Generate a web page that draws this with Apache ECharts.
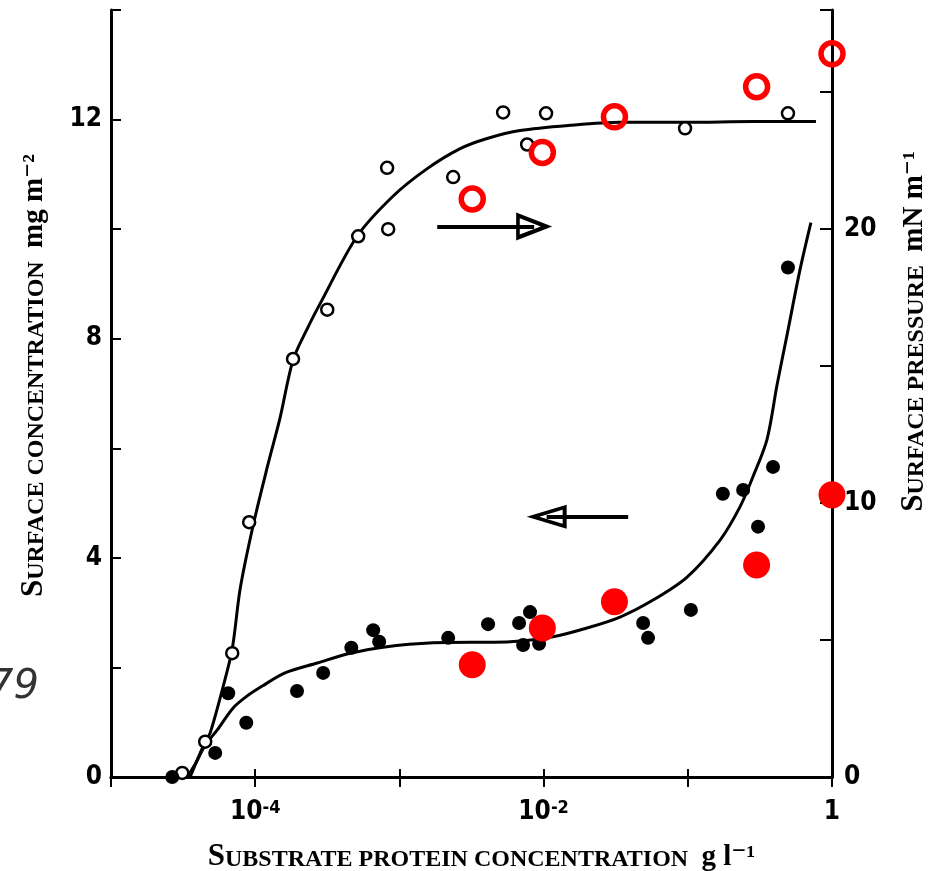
<!DOCTYPE html>
<html>
<head>
<meta charset="utf-8">
<script src="https://cdn.jsdelivr.net/npm/echarts@6/dist/echarts.min.js"></script>
<style>
html,body{margin:0;padding:0;background:#fff;}
#chart{width:929px;height:871px;}
</style>
</head>
<body>
<div id="chart"></div>
<script>
// ---- Data (substrate protein concentration in g/l) ----
// Surface pressure (mN/m, right axis): open black circles
const pressureX = [3.12e-5, 4.50e-5, 6.93e-5, 9.08e-5, 1.83e-4, 3.16e-4, 5.18e-4, 8.36e-4, 8.22e-4, 2.36e-3, 5.24e-3, 7.69e-3, 1.04e-2, 0.0957, 0.495];
const pressureY = [0.15, 1.29, 4.52, 9.30, 15.26, 17.06, 19.74, 20.0, 22.24, 21.9, 24.26, 23.09, 24.23, 23.68, 24.23];

// Surface concentration (mg/m2, left axis): filled black circles
const concX = [2.66e-5, 5.28e-5, 6.50e-5, 8.67e-5, 1.95e-4, 2.96e-4, 4.64e-4, 6.58e-4, 7.24e-4, 2.18e-3, 4.12e-3, 6.76e-3, 8.05e-3, 7.21e-3, 9.31e-3, 0.0490, 0.0530, 0.105, 0.175, 0.242, 0.307, 0.390, 0.495];
const concY = [0.0, 0.44, 1.53, 0.99, 1.57, 1.90, 2.36, 2.68, 2.47, 2.54, 2.79, 2.81, 3.01, 2.41, 2.43, 2.81, 2.54, 3.05, 5.17, 5.24, 4.57, 5.66, 9.30];

// Fitted curve for surface pressure (right axis)
const pressureCurveX = [3.54e-5, 4.50e-5, 4.88e-5, 6.0e-5, 6.93e-5, 7.87e-5, 9.68e-5, 1.21e-4, 1.49e-4, 1.83e-4, 2.33e-4, 2.82e-4, 5.09e-4, 9.06e-4, 1.56e-3, 2.64e-3, 4.06e-3, 6.87e-3, 0.0153, 0.0339, 0.0989, 0.283, 0.774];
const pressureCurveY = [0, 1.29, 1.62, 3.31, 4.67, 6.88, 9.19, 11.29, 13.13, 15.22, 16.43, 17.28, 19.74, 21.21, 22.21, 22.94, 23.31, 23.60, 23.79, 23.90, 23.90, 23.93, 23.93];

// Fitted curve for surface concentration (left axis)
const concCurveX = [3.38e-5, 3.90e-5, 4.50e-5, 5.46e-5, 7.03e-5, 8.81e-5, 1.12e-4, 1.61e-4, 2.69e-4, 4.56e-4, 7.71e-4, 1.71e-3, 5.86e-3, 0.0116, 0.0200, 0.0339, 0.0574, 0.0989, 0.168, 0.230, 0.283, 0.354, 0.416, 0.488, 0.600, 0.714];
const concCurveY = [0, 0.27, 0.58, 0.86, 1.26, 1.48, 1.66, 1.90, 2.08, 2.26, 2.37, 2.45, 2.47, 2.56, 2.72, 2.92, 3.23, 3.65, 4.33, 4.93, 5.48, 6.16, 7.16, 8.07, 9.26, 10.12];

// Red overlay points
const redX = [0.0032, 0.0098, 0.031, 0.30, 1.0];
const redPressure = [21.1, 22.8, 24.1, 25.2, 26.4];
const redConc = [2.05, 2.72, 3.20, 3.87, 5.15];

// Arrows (annotation: which axis each curve belongs to)
const arrowPressure = [[1.83e-3, 20.1], [8.6e-3, 20.1]];
const arrowConc = [[0.0386, 4.75], [0.0105, 4.75]];

// Tick labels
const xTickLabels = {'-4': '{n|10}{s|-4}', '-2': '{n|10}{s|-2}', '0': '{n|1}'};
const leftTickLabels = [0, 4, 8, 12];
const rightTickLabels = [0, 10, 20];

const zip = (xs, ys) => xs.map((x, i) => [x, ys[i]]);

const tickFont = "'Liberation Sans Narrow','DejaVu Sans Condensed','DejaVu Sans',sans-serif";
const serif = "'Liberation Serif','DejaVu Serif',serif";
const openHead = 'path://M10,0L20,30L0,30Z M10,9.5L4.2,27L15.8,27Z';

const capRich = {
  a: {fontFamily: serif, fontWeight: 'bold', fontSize: 31, color: '#000', verticalAlign: 'bottom'},
  b: {fontFamily: serif, fontWeight: 'bold', fontSize: 24, color: '#000', verticalAlign: 'bottom'},
  u: {fontFamily: serif, fontWeight: 'bold', fontSize: 29, color: '#000', verticalAlign: 'bottom'}
};

const chart = echarts.init(document.getElementById('chart'), null, {renderer: 'canvas'});

const axisLineStyle = {color: '#000', width: 3};

chart.setOption({
  animation: false,
  backgroundColor: '#fff',
  grid: {left: 111, right: 97, top: 10, bottom: 94, containLabel: false, outerBoundsMode: 'none'},
  xAxis: [{
    type: 'log', logBase: 10, min: 1e-5, max: 1, interval: 1, position: 'bottom',
    axisLine: {show: true, lineStyle: axisLineStyle},
    axisTick: {show: true, inside: true, length: 8, lineStyle: {color: '#000', width: 2}},
    splitLine: {show: false},
    axisLabel: {
      margin: 22,
      formatter: v => { const e = Math.round(Math.log10(v)); return xTickLabels[String(e)] || ''; },
      rich: {
        n: {fontFamily: tickFont, fontWeight: 'bold', fontSize: 26, color: '#000', verticalAlign: 'bottom'},
        s: {fontFamily: tickFont, fontWeight: 'bold', fontSize: 18, color: '#000', verticalAlign: 'top'}
      }
    },
    name: '{a|S}{b|UBSTRATE PROTEIN CONCENTRATION}    {u|g l⁻¹}',
    nameLocation: 'middle', nameGap: 64,
    nameTextStyle: {rich: capRich, padding: [0, 0, 0, 20]}
  }, {
    type: 'log', logBase: 10, min: 1e-5, max: 1, interval: 1, position: 'top',
    axisLine: {show: true, lineStyle: axisLineStyle},
    axisTick: {show: true, inside: true, length: 10, lineStyle: {color: '#000', width: 2}},
    axisLabel: {show: false}, splitLine: {show: false}
  }],
  yAxis: [{
    type: 'value', min: 0, max: 14, interval: 2, position: 'left',
    axisLine: {show: true, lineStyle: axisLineStyle},
    axisTick: {show: true, inside: true, length: 10, lineStyle: {color: '#000', width: 2}},
    splitLine: {show: false},
    axisLabel: {
      margin: 9, fontFamily: tickFont, fontWeight: 'bold', fontSize: 26, color: '#000',
      formatter: v => leftTickLabels.includes(v) ? String(v) : ''
    },
    name: '{a|S}{b|URFACE CONCENTRATION}    {u|mg m⁻²}',
    nameLocation: 'middle', nameRotate: 90, nameGap: 62,
    nameTextStyle: {rich: capRich, padding: [0, 0, 0, 36]}
  }, {
    type: 'value', min: 0, max: 28, interval: 5, position: 'right',
    axisLine: {show: true, lineStyle: axisLineStyle},
    axisTick: {show: true, inside: true, length: 12, lineStyle: {color: '#000', width: 2}},
    splitLine: {show: false},
    axisLabel: {
      margin: 12, fontFamily: tickFont, fontWeight: 'bold', fontSize: 26, color: '#000',
      formatter: v => rightTickLabels.includes(v) ? String(v) : ''
    },
    name: '{a|S}{b|URFACE PRESSURE}    {u|mN m⁻¹}',
    nameLocation: 'middle', nameRotate: 90, nameGap: 66,
    nameTextStyle: {rich: capRich, padding: [0, 0, 0, 124]}
  }],
  graphic: [{
    type: 'text', left: -12, top: 668,
    style: {text: '79', fontFamily: "'DejaVu Sans','Noto Sans',sans-serif", fontStyle: 'italic', fontSize: 40, fill: '#333'}
  }],
  series: [
    {
      name: 'pressure curve', type: 'line', xAxisIndex: 0, yAxisIndex: 1,
      data: zip(pressureCurveX, pressureCurveY), smooth: 0.3,
      showSymbol: false, lineStyle: {color: '#000', width: 3}, silent: true, z: 2,
      markLine: {
        silent: true, symbol: ['none', openHead], symbolSize: [28, 36],
        label: {show: false}, lineStyle: {color: '#000', width: 4, type: 'solid'},
        data: [[{coord: arrowPressure[0]}, {coord: arrowPressure[1]}]]
      }
    },
    {
      name: 'concentration curve', type: 'line', xAxisIndex: 0, yAxisIndex: 0,
      data: zip(concCurveX, concCurveY), smooth: 0.3,
      showSymbol: false, lineStyle: {color: '#000', width: 3}, silent: true, z: 2,
      markLine: {
        silent: true, symbol: ['none', openHead], symbolSize: [24, 40],
        label: {show: false}, lineStyle: {color: '#000', width: 4, type: 'solid'},
        data: [[{coord: arrowConc[0]}, {coord: arrowConc[1]}]]
      }
    },
    {
      name: 'surface pressure', type: 'scatter', xAxisIndex: 0, yAxisIndex: 1,
      data: zip(pressureX, pressureY), symbol: 'circle', symbolSize: 12,
      itemStyle: {color: '#fff', borderColor: '#000', borderWidth: 2.5, opacity: 1}, z: 3
    },
    {
      name: 'surface concentration', type: 'scatter', xAxisIndex: 0, yAxisIndex: 0,
      data: zip(concX, concY), symbol: 'circle', symbolSize: 14,
      itemStyle: {color: '#000', opacity: 1}, z: 3
    },
    {
      name: 'red pressure', type: 'scatter', xAxisIndex: 0, yAxisIndex: 1,
      data: zip(redX, redPressure), symbol: 'circle', symbolSize: 22,
      itemStyle: {color: 'rgba(255,255,255,0)', borderColor: '#ff0000', borderWidth: 5.5, opacity: 1}, z: 4
    },
    {
      name: 'red concentration', type: 'scatter', xAxisIndex: 0, yAxisIndex: 0,
      data: zip(redX, redConc), symbol: 'circle', symbolSize: 27,
      itemStyle: {color: '#ff0000', opacity: 1}, z: 4
    }
  ]
});
</script>
</body>
</html>
